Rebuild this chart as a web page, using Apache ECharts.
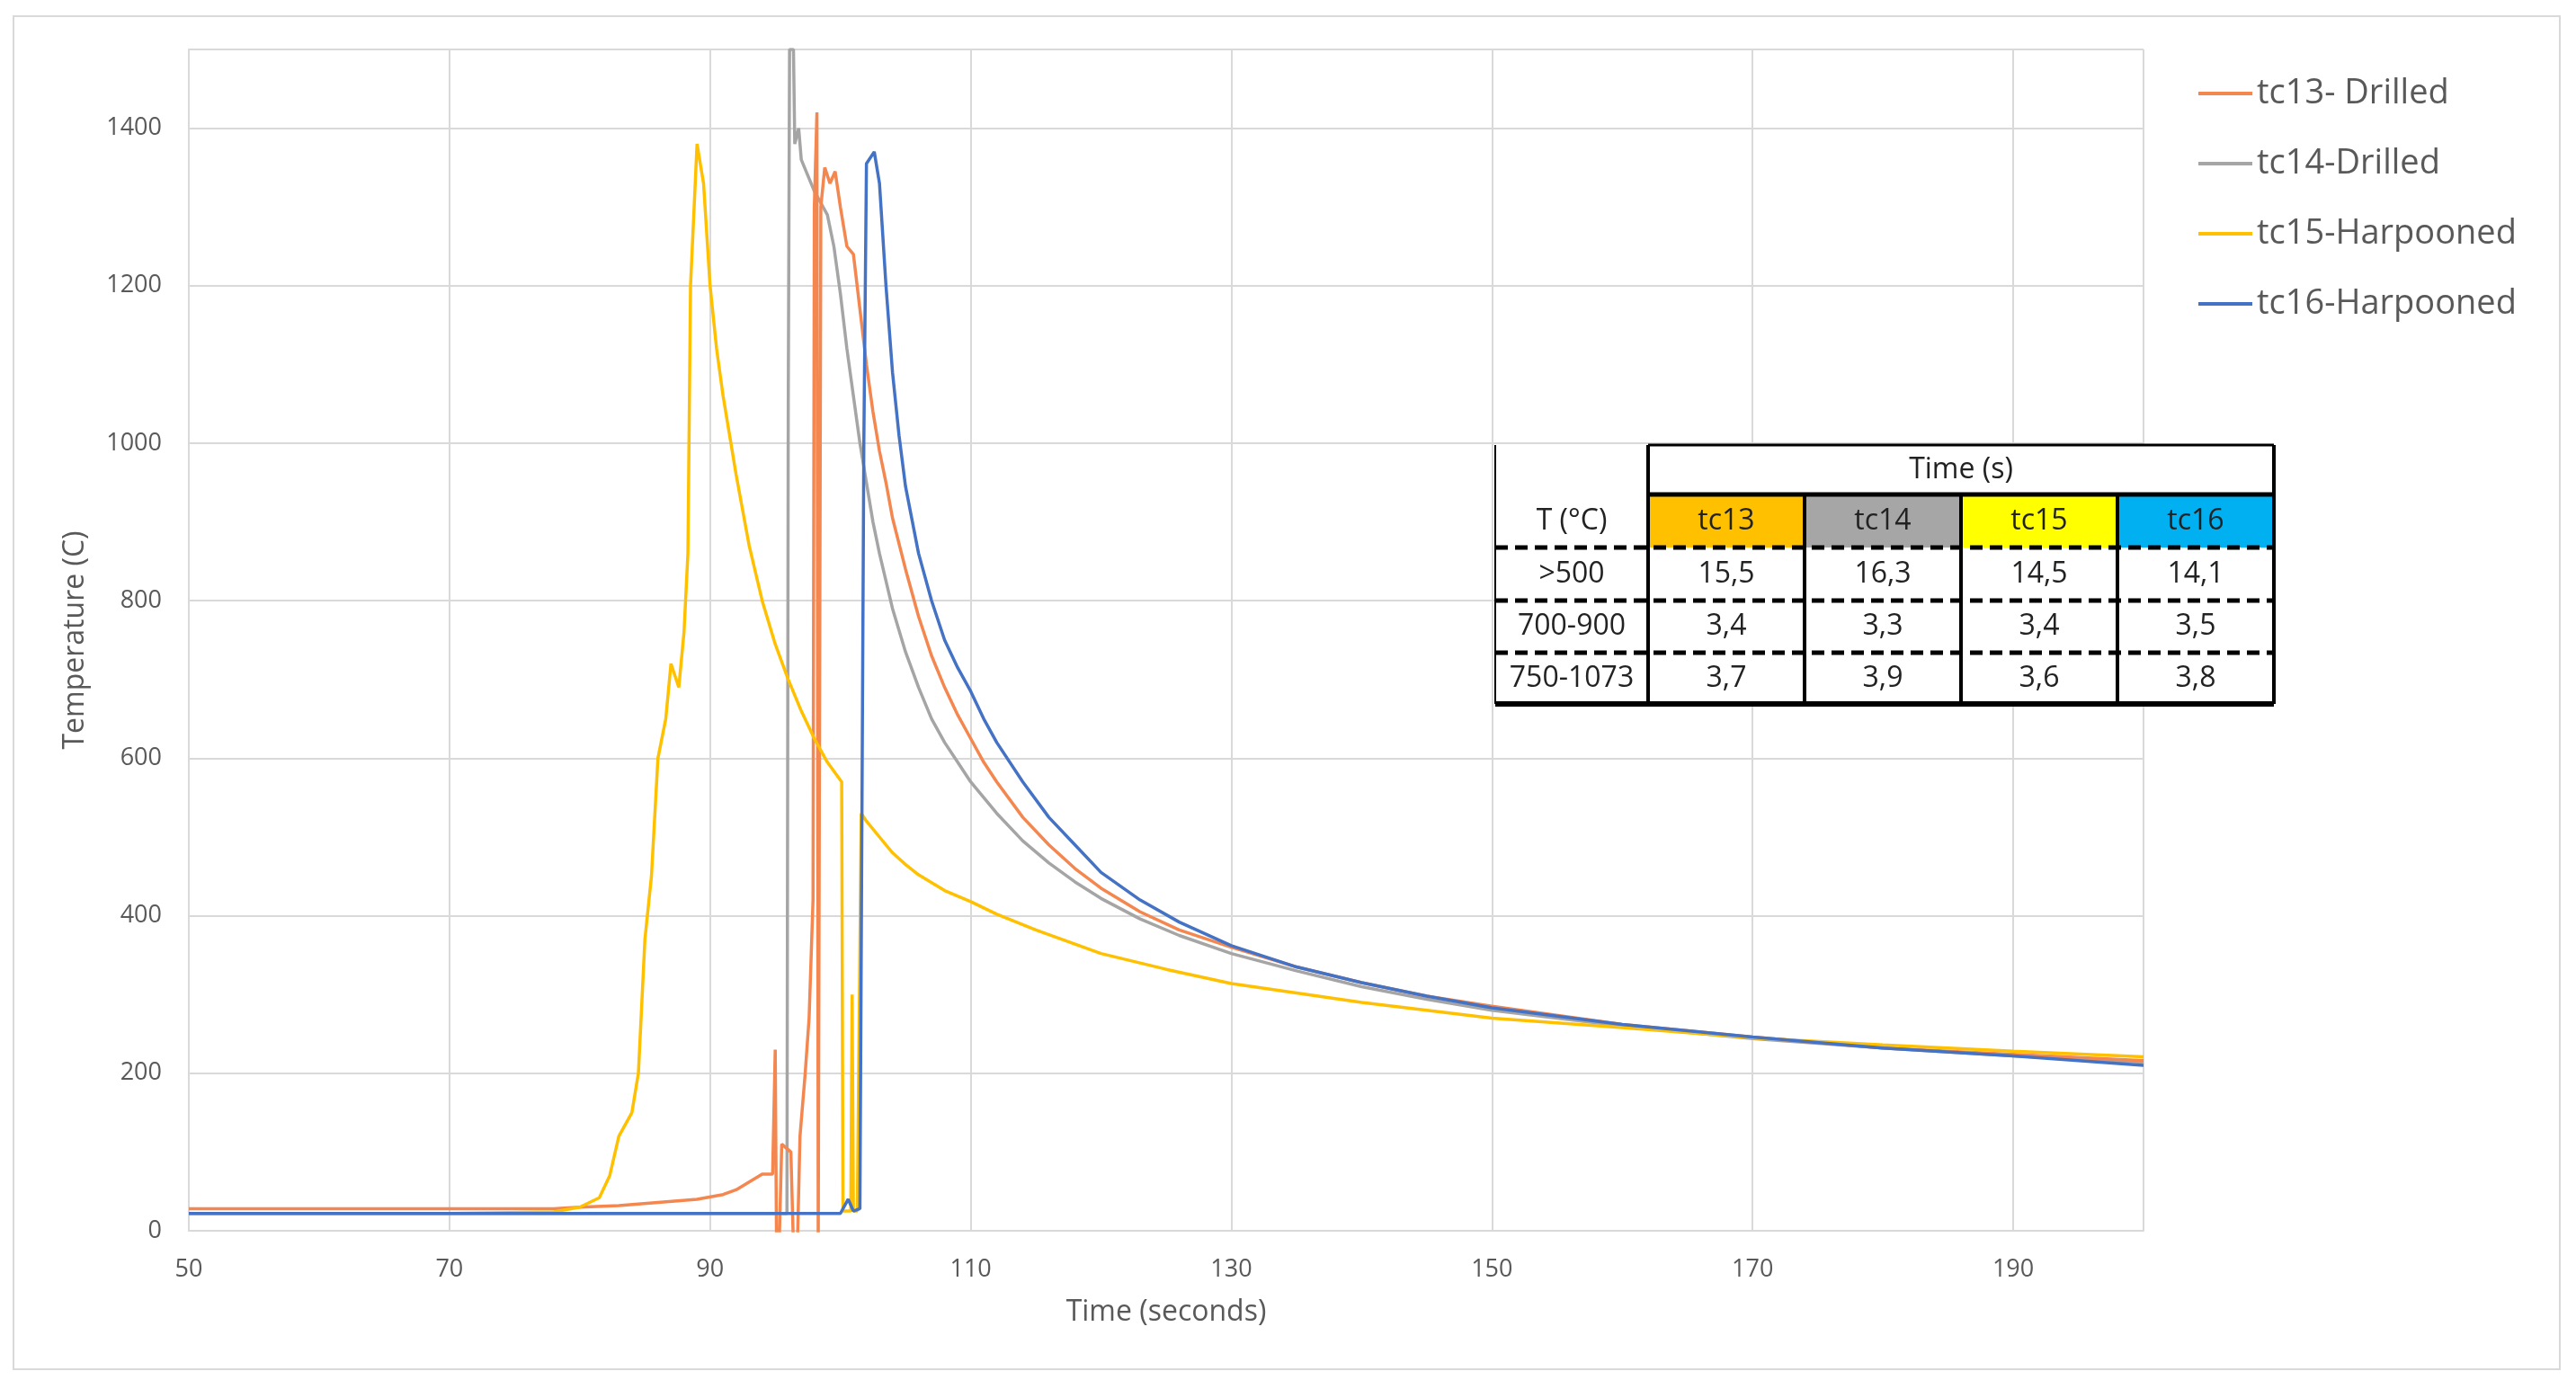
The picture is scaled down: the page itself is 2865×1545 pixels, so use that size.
<!DOCTYPE html>
<html><head><meta charset="utf-8">
<script src="https://cdn.jsdelivr.net/npm/echarts@6/dist/echarts.min.js"></script>
<style>html,body{margin:0;background:#fff}#c{width:2865px;height:1545px}</style>
</head><body><div id="c"></div>
<script>
const seriesNames = ['tc13- Drilled','tc14-Drilled','tc15-Harpooned','tc16-Harpooned'];
const colors = ['#F4874F','#A5A5A5','#FFC000','#4472C4'];
const tc13 = [[50,28],[60,28],[70,28],[78,28],[80,30],[83,32],[86,36],[89,40],[91,46],[92,52],[93,62],[94,72],[94.8,72],[95,230],[95.1,-20],[95.3,-20],[95.5,110],[96.2,100],[96.4,-20],[96.7,-20],[96.9,120],[97.3,200],[97.6,270],[97.9,420],[98.0,1300],[98.2,1420],[98.3,-20],[98.4,-20],[98.5,1300],[98.8,1350],[99.2,1330],[99.6,1345],[100,1300],[100.5,1250],[101,1240],[101.5,1170],[102,1100],[102.5,1040],[103,990],[103.5,950],[104,905],[105,840],[106,780],[107,730],[108,690],[109,655],[110,625],[111,595],[112,570],[114,525],[116,490],[118,460],[120,435],[123,405],[126,382],[130,360],[135,335],[140,315],[145,298],[150,285],[160,262],[170,246],[180,232],[190,224],[200,216]];
const tc14 = [[50,22],[70,22],[90,22],[95.9,22],[96,1050],[96.1,1500],[96.4,1500],[96.5,1380],[96.8,1400],[97,1360],[97.5,1340],[98,1320],[99,1290],[99.5,1250],[100,1190],[100.5,1120],[101,1060],[101.5,1000],[102,950],[102.5,900],[103,860],[104,790],[105,735],[106,690],[107,650],[108,620],[109,595],[110,570],[112,530],[114,495],[116,467],[118,443],[120,422],[123,396],[126,375],[130,352],[135,330],[140,310],[145,294],[150,280],[160,260],[170,244],[180,232],[190,222],[200,214]];
const tc15 = [[50,22],[70,22],[78,24],[80,30],[81.5,42],[82.3,70],[83,120],[84,150],[84.5,200],[85,370],[85.5,450],[86,600],[86.6,650],[87,720],[87.6,690],[88,760],[88.3,860],[88.5,1200],[89,1380],[89.5,1330],[90,1200],[90.5,1120],[91,1060],[91.5,1010],[92,960],[92.5,915],[93,870],[94,800],[95,745],[96,700],[97,660],[98,625],[99,595],[100.1,570],[100.2,25],[100.8,25],[100.9,300],[101,25],[101.3,25],[101.6,530],[102,520],[103,500],[104,480],[105,465],[106,452],[108,432],[110,418],[112,402],[115,382],[118,364],[120,352],[125,332],[130,314],[140,290],[150,270],[160,258],[170,245],[180,236],[190,228],[200,221]];
const tc16 = [[50,22],[70,22],[90,22],[100,22],[100.6,40],[101,25],[101.5,28],[101.8,1000],[102,1355],[102.6,1370],[103,1330],[103.5,1200],[104,1090],[104.5,1010],[105,945],[106,860],[107,800],[108,750],[109,715],[110,685],[111,650],[112,620],[114,570],[116,525],[118,490],[120,455],[123,420],[126,392],[130,362],[135,335],[140,315],[145,298],[150,283],[160,262],[170,246],[180,232],[190,222],[200,210]];
const tableCols = ['tc13','tc14','tc15','tc16'];
const tableColColors = ['#FFC000','#A6A6A6','#FFFF00','#00B0F0'];
const tableRows = ['>500','700-900','750-1073'];
const tableVals = [['15,5','16,3','14,5','14,1'],['3,4','3,3','3,4','3,5'],['3,7','3,9','3,6','3,8']];

const F = 'Open Sans, Noto Sans, sans-serif';
const g = [];
g.push({type:'rect',z:0,shape:{x:15,y:18,width:2832,height:1505},style:{fill:'none',stroke:'#d9d9d9',lineWidth:2}});
const x0=1663,xc=1833,cw=174,ys=[495,550,609,668,726,783];
g.push({type:'rect',z:10,shape:{x:x0,y:ys[0],width:xc+4*cw-x0,height:ys[5]-ys[0]},style:{fill:'#fff',stroke:null}});
const T=(x,y,t)=>g.push({type:'text',z:12,x,y,style:{text:t,font:'32px '+F,fill:'#222',align:'center',verticalAlign:'middle'}});
tableCols.forEach((c,i)=>{
  g.push({type:'rect',z:11,shape:{x:xc+i*cw,y:ys[1],width:cw,height:ys[2]-ys[1]},style:{fill:tableColColors[i]}});
  T(xc+i*cw+cw/2,(ys[1]+ys[2])/2,c);
});
T(xc+2*cw,(ys[0]+ys[1])/2,'Time (s)');
T((x0+xc)/2,(ys[1]+ys[2])/2,'T (°C)');
tableRows.forEach((r,j)=>{
  const yy=(ys[j+2]+ys[j+3])/2;
  T((x0+xc)/2,yy,r);
  tableVals[j].forEach((v,i)=>T(xc+i*cw+cw/2,yy,v));
});
const L=(x1,y1,x2,y2,w,dash)=>g.push({type:'line',z:13,shape:{x1,y1,x2,y2},style:{stroke:'#000',lineWidth:w,lineDash:dash||null}});
const xr=xc+4*cw;
L(xc,ys[0],xc,ys[5],4); for(let i=1;i<=4;i++) L(xc+i*cw,i==4?ys[0]:ys[1],xc+i*cw,ys[5],4);
L(x0,ys[0],x0,ys[5],2); L(xc,ys[0],xr,ys[0],3); L(xc,ys[1],xr,ys[1],5);
for(let k=2;k<=4;k++) L(x0,ys[k],xr,ys[k],5,[14,8]);
L(x0,ys[5],xr,ys[5],6);

const chart = echarts.init(document.getElementById('c'));
chart.setOption({
  animation:false,
  color:colors,
  grid:{left:210,right:481,top:55,bottom:176},
  legend:{orient:'vertical',left:2440,top:80,itemGap:40,itemWidth:60,itemHeight:4,icon:'rect',
    textStyle:{fontSize:38,fontFamily:F,color:'#595959'},data:seriesNames},
  xAxis:{type:'value',min:50,max:200,interval:20,name:'Time (seconds)',nameLocation:'middle',nameGap:75,
    nameTextStyle:{fontSize:32,fontFamily:F,color:'#595959'},
    axisLine:{lineStyle:{color:'#d9d9d9',width:2}},axisTick:{show:false},
    axisLabel:{fontSize:27,fontFamily:F,color:'#595959',margin:30,showMaxLabel:false},
    splitLine:{lineStyle:{color:'#d9d9d9',width:2}}},
  yAxis:{type:'value',min:0,max:1500,interval:200,name:'Temperature (C)',nameLocation:'middle',nameGap:110,
    nameTextStyle:{fontSize:32,fontFamily:F,color:'#595959'},
    axisLine:{show:true,lineStyle:{color:'#d9d9d9',width:2}},axisTick:{show:false},
    axisLabel:{fontSize:27,fontFamily:F,color:'#595959',margin:30,showMaxLabel:false,formatter:v=>String(v)},
    splitLine:{lineStyle:{color:'#d9d9d9',width:2}}},
  series:[tc13,tc14,tc15,tc16].map((d,i)=>({name:seriesNames[i],type:'line',data:d,showSymbol:false,clip:true,
    lineStyle:{width:3.5,color:colors[i]},z:[3,2,4,5][i]})),
  graphic:g
});
</script></body></html>
